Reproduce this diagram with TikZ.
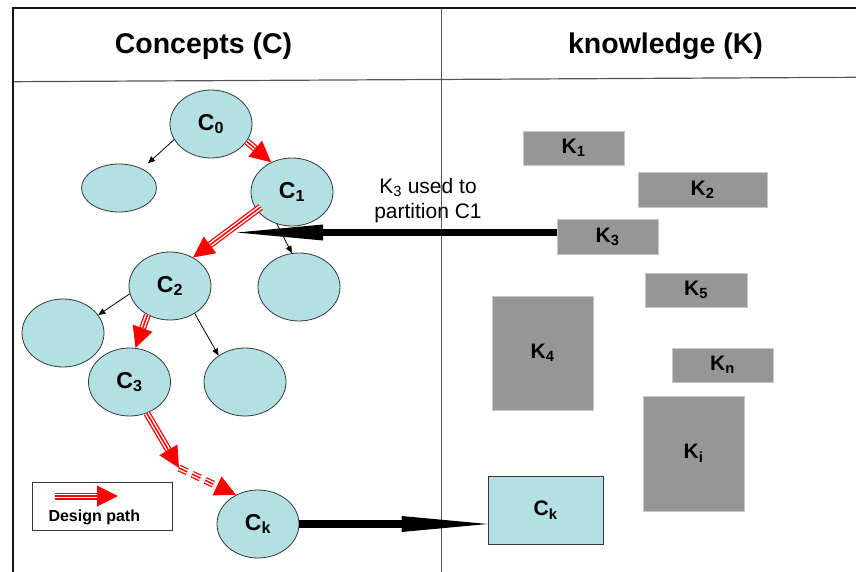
\documentclass[tikz,border=0pt]{standalone}
\usepackage{fontspec}
\setmainfont{Liberation Sans}
\usetikzlibrary{arrows.meta,shapes.geometric}
\definecolor{cfill}{RGB}{179,224,227}
\definecolor{kfill}{RGB}{150,150,150}
\definecolor{edge}{RGB}{55,55,55}
\definecolor{framec}{RGB}{20,20,20}
\definecolor{divc}{RGB}{85,85,85}
\begin{document}
\begin{tikzpicture}[x=1pt,y=-1pt,
  cnode/.style={ellipse, draw=edge, line width=0.8pt, fill=cfill,
    minimum width=82pt, minimum height=68pt, inner sep=0pt,
    font=\bfseries\fontsize{23}{23}\selectfont},
  kbox/.style={rectangle, fill=kfill, draw=black!22, line width=0.6pt,
    inner sep=0pt, font=\bfseries\fontsize{21}{21}\selectfont},
  header/.style={anchor=base, inner sep=0pt, font=\bfseries\fontsize{28.5}{28.5}\selectfont},
  note/.style={align=center, inner sep=0pt, font=\fontsize{21}{25}\selectfont},
  thinarrow/.style={draw=black, line width=0.8pt, -{Triangle[length=7pt,width=6pt]}},
  bigarrow/.style={draw=black, line width=7.5pt,
    -{Triangle[length=86pt,width=16pt,line width=0pt 0 0]}},
  dp/.style={draw=red, line width=7pt,
    -{Triangle[length=21pt,width=21pt,line width=0pt 0 0]},
    postaction={draw=white, line width=4.4pt, -, shorten >=21.5pt},
    postaction={draw=red, line width=1.5pt, -, shorten >=21.5pt}},
  dpdash/.style={dash pattern=on 9pt off 5.5pt}
]
\useasboundingbox (0,0) rectangle (856,572);

% frame
\draw[divc, line width=1.1pt] (441.7,8) -- (441.7,572);
\draw[divc, line width=1.2pt] (12.8,81.7) -- (856,77.3);
\draw[framec, line width=2.3pt] (12.8,572) -- (12.8,8) -- (856,8);

% headers
\node[header] (hc) at (203.5,54) {Concepts (C)};
\node[header] (hk) at (665.5,54) {knowledge (K)};

% concept tree
\node[cnode] (C0) at (211,124) {C\textsubscript{0}};
\node[cnode, minimum width=75pt, minimum height=48pt] (E1) at (119,188) {};
\node[cnode] (C1) at (292,192) {C\textsubscript{1}};
\node[cnode] (C2) at (170,286) {C\textsubscript{2}};
\node[cnode] (E2) at (299,287) {};
\node[cnode] (E3) at (63,333) {};
\node[cnode] (C3) at (129.5,382) {C\textsubscript{3}};
\node[cnode] (E4) at (245,382) {};
\node[cnode] (Ck) at (258,524) {C\textsubscript{k}};

% knowledge boxes
\node[kbox, minimum width=101pt, minimum height=34pt] (K1) at (573.5,148) {K\textsubscript{1}};
\node[kbox, minimum width=129pt, minimum height=35pt] (K2) at (702.5,189.5) {K\textsubscript{2}};
\node[kbox, minimum width=101pt, minimum height=35pt] (K3) at (607.5,236.5) {K\textsubscript{3}};
\node[kbox, minimum width=102pt, minimum height=34pt] (K5) at (696,290) {K\textsubscript{5}};
\node[kbox, minimum width=101pt, minimum height=114pt] (K4) at (542.5,353) {K\textsubscript{4}};
\node[kbox, minimum width=101pt, minimum height=34pt] (Kn) at (722.5,365) {K\textsubscript{n}};
\node[kbox, minimum width=101pt, minimum height=115pt] (Ki) at (693.5,453.5) {K\textsubscript{i}};
\node[kbox, fill=cfill, draw=edge, line width=0.8pt, minimum width=115pt, minimum height=68pt] (Ckbox) at (545.5,510) {C\textsubscript{k}};

% label
\node[note, anchor=north] (lbl) at (428,178) {K\textsubscript{3} used to\\partition C1};

% legend
\node[draw=edge, line width=0.8pt, minimum width=140pt, minimum height=48pt, inner sep=0pt] (legend) at (102,506) {};
\node[anchor=base, inner sep=0pt, font=\bfseries\fontsize{16}{16}\selectfont] (legtext) at (94.3,521) {Design path};
\coordinate (lg1) at (55,496);
\coordinate (lg2) at (118,496);

% helper coordinates
\coordinate (k3tip) at (237,232.5);
\coordinate (brk) at (179,468);

% thin arrows
\draw[thinarrow, shorten >=8pt] (C0.203) -- (E1.40);
\draw[thinarrow] (C1.245) -- (E2.102);
\draw[thinarrow] (C2.191) -- (E3.27);
\draw[thinarrow] (C2.-48) -- (E4.135);

% big arrows
\draw[bigarrow] ([yshift=4pt]K3.west) -- (k3tip);
\draw[bigarrow] (Ck.east) -- (Ck.east -| Ckbox.west);

% design path
\draw[dp] (C0.-26) -- (C1.125);
\draw[dp, shorten <=-5pt] (C1.207) -- (C2.51);
\draw[dp] (C2.232) -- (C3.80);
\draw[dp] (C3.-61) -- (brk);
\draw[dp, dpdash] (brk) -- (Ck.127);
\draw[dp] (lg1) -- (lg2);
\end{tikzpicture}
\end{document}
